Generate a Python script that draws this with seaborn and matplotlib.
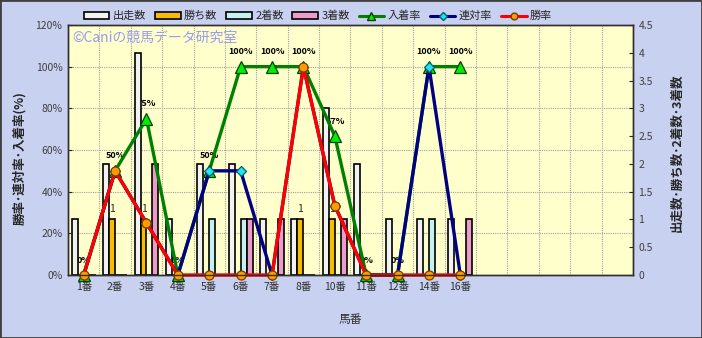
import numpy as np
import pandas as pd
import matplotlib
matplotlib.use("Agg")
import matplotlib.pyplot as plt
import matplotlib.transforms as mtrans
from matplotlib.patches import Patch, Rectangle
from matplotlib.lines import Line2D
import seaborn as sns

# ---------------- data ----------------
categories = ["1番", "2番", "3番", "4番", "5番", "6番", "7番", "8番",
              "10番", "11番", "12番", "14番", "16番"]
starts = [1, 2, 4, 1, 2, 2, 1, 1, 3, 2, 1, 1, 1]          # 出走数
wins = [0, 1, 1, 0, 0, 0, 0, 1, 1, 0, 0, 0, 0]            # 勝ち数
seconds = [0, 0, 0, 0, 1, 1, 0, 0, 0, 0, 0, 1, 0]         # 2着数
thirds = [0, 0, 2, 0, 0, 1, 1, 0, 1, 0, 0, 0, 1]          # 3着数
place_rate = [0, 50, 75, 0, 50, 100, 100, 100, 66.7, 0, 0, 100, 100]   # 入着率
quinella_rate = [0, 50, 25, 0, 50, 50, 0, 100, 33.3, 0, 0, 100, 0]     # 連対率
win_rate = [0, 50, 25, 0, 0, 0, 0, 100, 33.3, 0, 0, 0, 0]              # 勝率
pct_ticks = [0, 20, 40, 60, 80, 100, 120]
cnt_ticks = [0, 0.5, 1, 1.5, 2, 2.5, 3, 3.5, 4, 4.5]
n_slots = 18

bar_names = ["出走数", "勝ち数", "2着数", "3着数"]
bar_colors = ["#f2f2f2", "#f5be00", "#c4f2f2", "#eb9ccb"]
line_names = ["入着率", "連対率", "勝率"]

# ---------------- style ----------------
sns.set_style("white")
plt.rcParams["font.family"] = ["Noto Sans CJK JP", "DejaVu Sans"]

bg = "#c9d1f1"
fig = plt.figure(figsize=(7.02, 3.38), dpi=100, facecolor=bg)
ax = fig.add_axes([68 / 702, 63 / 338, 565 / 702, 250 / 338])
ax.set_facecolor("#ffffcc")
ax2 = ax.twinx()

# ---------------- bars (counts, right axis) ----------------
df = pd.DataFrame({
    "馬番": categories * 4,
    "種別": sum([[nm] * len(categories) for nm in bar_names], []),
    "数": starts + wins + seconds + thirds,
})
sns.barplot(data=df, x="馬番", y="数", hue="種別", order=categories,
            hue_order=bar_names, palette=bar_colors, width=0.76,
            edgecolor="black", linewidth=1.2, errorbar=None,
            legend=False, ax=ax, saturation=1)

ax.set_xlim(-0.5, n_slots - 0.5)
ax.set_ylim(0, 4.5)
ax.yaxis.tick_right()
ax.set_yticks(cnt_ticks)
ax.set_yticklabels([f"{v:g}" for v in cnt_ticks])
ax.set_xticks(range(len(categories)))
ax.set_xticklabels(categories)
ax.set_xlabel("")
ax.set_ylabel("")
ax.set_xticks(np.arange(-0.5, n_slots, 1), minor=True)
ax.set_axisbelow(True)
ax.grid(which="minor", axis="x", color="#a0a0a0", linestyle=(0, (1, 1)), linewidth=0.8)
ax.grid(which="major", axis="both", visible=False)

# win count labels
lab = ax.bar_label(ax.containers[1], labels=[str(v) if v > 0 else "" for v in wins],
                   padding=4, fontsize=7.5)
for t in lab:
    t.set_zorder(0.8)

# ---------------- lines (rates, left axis) ----------------
ax2.set_ylim(0, 120)
ax2.yaxis.tick_left()
ax2.set_yticks(pct_ticks)
ax2.set_yticklabels([f"{v}%" for v in pct_ticks])
ax2.set_ylabel("")

# horizontal grid at % ticks (drawn under bars)
blend = mtrans.blended_transform_factory(ax.transAxes, ax2.transData)
ax.hlines(pct_ticks[1:-1], 0, 1, transform=blend, colors="#a0a0a0",
          linestyles=(0, (1, 1)), linewidth=0.8, zorder=0.5)

xpos = np.arange(len(categories))
line_specs = [
    (place_rate, "#008000", "^", "#00ee00", "#004000", 8),
    (quinella_rate, "#000080", "D", "#22e5f0", "#006070", 5),
    (win_rate, "#ff0000", "o", "#ff9a00", "#7a3a00", 6.5),
]
for vals, col, mk, mfc, mec, ms in line_specs:
    sns.lineplot(x=xpos, y=vals, ax=ax2, color=col, linewidth=2.4,
                 marker=mk, markersize=ms, markerfacecolor=mfc,
                 markeredgecolor=mec, markeredgewidth=0.9, clip_on=False)

# percentage labels for 入着率 (under the bars)
for i, v in enumerate(place_rate):
    ax.annotate(f"{v:.0f}%", xy=(i, v), xycoords=ax2.transData,
                xytext=(0, 7.5), textcoords="offset points", ha="center",
                va="bottom", fontsize=6.5, fontweight="bold", color="black",
                zorder=0.8, annotation_clip=False)

# ---------------- axes cosmetics ----------------
for a in (ax, ax2):
    for s in a.spines.values():
        s.set_color("#303030")
        s.set_linewidth(1.0)
ax.tick_params(axis="x", which="both", length=0, labelsize=7.5,
               labelcolor="#303030", pad=5)
ax.tick_params(axis="y", direction="in", length=3, labelsize=7.5,
               labelcolor="#404040", right=True, left=False, pad=4)
ax2.tick_params(axis="y", direction="in", length=3, labelsize=7.5,
                labelcolor="#404040", left=True, right=False, pad=4)

# watermark
ax.text(0.008, 0.95, "©Caniの競馬データ研究室", transform=ax.transAxes,
        fontsize=10, color="#9a9aee", ha="left", va="center", zorder=0.8)

# axis titles
fig.text(20 / 702, 1 - 158 / 338, "勝率･連対率･入着率(%)", rotation=90,
         ha="center", va="center", fontsize=9, fontweight="bold")
fig.text(677 / 702, 1 - 153 / 338, "出走数･勝ち数･2着数･3着数", rotation=90,
         ha="center", va="center", fontsize=9, fontweight="bold")
fig.text(350 / 702, 1 - 320 / 338, "馬番", ha="center", va="center",
         fontsize=8.5, color="#303030")

# legend
handles = [Patch(facecolor=c, edgecolor="black", linewidth=1.2) for c in bar_colors]
for _, col, mk, mfc, mec, ms in line_specs:
    handles.append(Line2D([0], [0], color=col, linewidth=2.2, marker=mk,
                          markersize=ms * 0.75, markerfacecolor=mfc,
                          markeredgecolor=mec))
fig.legend(handles, bar_names + line_names, loc="center", ncol=7,
           bbox_to_anchor=(318 / 702, 1 - 16 / 338), frameon=False,
           fontsize=8, handlelength=2.3, handleheight=0.55,
           columnspacing=0.8, handletextpad=0.3)

# figure border
fig.patches.append(Rectangle((0, 0), 1, 1, transform=fig.transFigure,
                             fill=False, edgecolor="#404040", linewidth=2))

fig.savefig("out.png", dpi=100, facecolor=bg)
